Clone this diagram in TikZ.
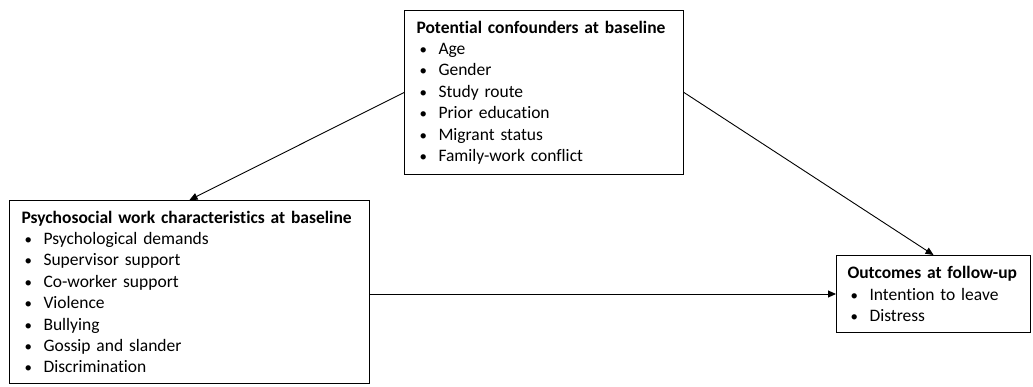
\documentclass[tikz,border=0pt]{standalone}
\usepackage{fontspec}
\setmainfont{Carlito}[RawFeature=-liga]
\usepackage{tikz}
\usetikzlibrary{positioning, arrows.meta, calc}

\newcommand{\itm}[1]{\par\hspace*{3pt}\makebox[19pt][l]{\scalebox{0.85}{\textbullet}}#1}

\begin{document}
\begin{tikzpicture}[x=1pt, y=-1pt,
    box/.style={draw, line width=1pt, anchor=north west, align=left,
        inner xsep=12pt, inner ysep=0pt,
        font=\fontsize{17.5}{21.4}\selectfont},
    arr/.style={line width=0.9pt, -{Triangle[length=8pt,width=7pt]}}]
    \useasboundingbox (0,0) rectangle (1033,386);

    % confounders
    \node[box, text width=255pt, minimum height=164pt] (conf) at (404,10)
        {\textbf{Potential confounders at baseline}
         \itm{Age}\itm{Gender}\itm{Study route}\itm{Prior education}
         \itm{Migrant status}\itm{Family-work conflict}};

    % exposures
    \node[box, text width=336pt, minimum height=183pt] (psy) at (9,200)
        {\textbf{Psychosocial work characteristics at baseline}
         \itm{Psychological demands}\itm{Supervisor support}
         \itm{Co-worker support}\itm{Violence}\itm{Bullying}
         \itm{Gossip and slander}\itm{Discrimination}};

    % outcomes
    \node[box, inner xsep=11pt, text width=172pt, minimum height=77pt] (out) at (836,255)
        {\textbf{Outcomes at follow-up}
         \itm{Intention to leave}\itm{Distress}};

    % arrows
    \draw[arr] (conf.west) -- (psy.north);
    \draw[arr] (conf.east) -- (out.north);
    \draw[arr] (psy.east |- out.west) -- (out.west);
\end{tikzpicture}
\end{document}
